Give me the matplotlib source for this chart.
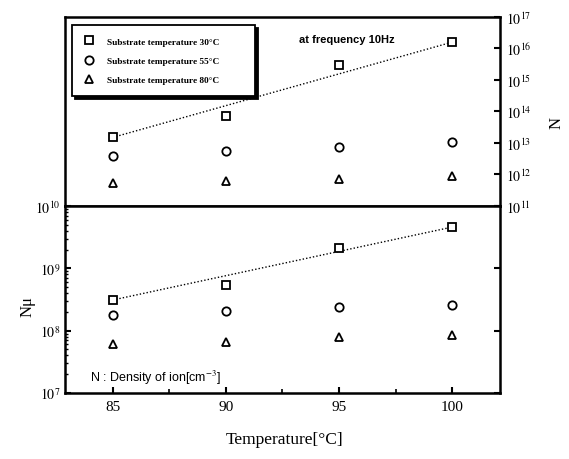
import matplotlib
matplotlib.use("Agg")
import matplotlib.pyplot as plt
from matplotlib.lines import Line2D
from matplotlib.ticker import FixedLocator, LogLocator, NullFormatter

plt.rcParams['font.family'] = ['Liberation Serif', 'DejaVu Serif']
plt.rcParams['mathtext.fontset'] = 'stix'

# data
temps = [85, 90, 95, 100]
n_30 = [1.5e13, 7e13, 3e15, 1.6e16]
n_55 = [3.9e12, 5.6e12, 7.4e12, 1.07e13]
n_80 = [5.4e11, 6.2e11, 7.2e11, 9e11]
nmu_30 = [3.1e8, 5.4e8, 2.1e9, 4.6e9]
nmu_55 = [1.8e8, 2.1e8, 2.4e8, 2.6e8]
nmu_80 = [6.1e7, 6.6e7, 7.9e7, 8.5e7]

legend_labels = ['Substrate temperature 30°C',
                 'Substrate temperature 55°C',
                 'Substrate temperature 80°C']
top_exps = [11, 12, 13, 14, 15, 16, 17]
bot_exps = [7, 8, 9, 10]
x_ticks = [85, 90, 95, 100]

markers = ['s', 'o', '^']
mk = dict(linestyle='none', markerfacecolor='white', markeredgecolor='black',
          markeredgewidth=1.3, markersize=6)

fig = plt.figure(figsize=(5.69, 4.60), dpi=100)
ax_top = fig.add_axes([0.1142, 0.55, 0.7645, 0.4109])
ax_bot = fig.add_axes([0.1142, 0.1435, 0.7645, 0.4065], sharex=ax_top)

# top panel: N
for ys, m in zip([n_30, n_55, n_80], markers):
    ax_top.plot(temps, ys, marker=m, **mk)
ax_top.plot([temps[0], temps[-1]], [n_30[0], n_30[-1]], color='black',
            linestyle=(0, (1, 1.5)), linewidth=1.0, zorder=1)
ax_top.set_yscale('log')
ax_top.set_ylim(10.0 ** top_exps[0], 10.0 ** top_exps[-1])
ax_top.yaxis.tick_right()
ax_top.set_yticks([10.0 ** e for e in top_exps])
ax_top.set_yticklabels([r'$10^{%d}$' % e for e in top_exps])
ax_top.yaxis.set_minor_formatter(NullFormatter())
ax_top.tick_params(axis='y', which='major', direction='in', length=4, width=1.5,
                   labelsize=10, pad=4)
ax_top.tick_params(axis='y', which='minor', left=False, right=False)
ax_top.tick_params(axis='x', which='both', bottom=False, top=False,
                   labelbottom=False)

handles = [Line2D([], [], marker=m, **mk) for m in markers]
leg = ax_top.legend(handles, legend_labels, loc='upper left',
                    bbox_to_anchor=(0.016, 0.957, 0.421, 0.0), mode='expand',
                    frameon=True, fancybox=False,
                    shadow={'color': 'black', 'alpha': 1},
                    edgecolor='black', framealpha=1,
                    prop={'family': 'Liberation Serif', 'weight': 'bold', 'size': 6.7},
                    handlelength=1.0, handletextpad=1.5, labelspacing=1.15,
                    borderpad=1.3, borderaxespad=0)
leg.get_frame().set_linewidth(1.3)

ax_top.text(0.648, 0.884, 'at frequency 10Hz', transform=ax_top.transAxes,
            ha='center', va='center', fontsize=8, fontweight='bold',
            family='Liberation Sans')

# bottom panel: N mu
for ys, m in zip([nmu_30, nmu_55, nmu_80], markers):
    ax_bot.plot(temps, ys, marker=m, **mk)
ax_bot.plot([temps[0], temps[-1]], [nmu_30[0], nmu_30[-1]], color='black',
            linestyle=(0, (1, 1.5)), linewidth=1.0, zorder=1)
ax_bot.set_yscale('log')
ax_bot.set_ylim(10.0 ** bot_exps[0], 10.0 ** bot_exps[-1])
ax_bot.set_yticks([10.0 ** e for e in bot_exps])
ax_bot.set_yticklabels([r'$10^{%d}$' % e for e in bot_exps])
ax_bot.yaxis.set_minor_locator(LogLocator(base=10, subs=range(2, 10)))
ax_bot.yaxis.set_minor_formatter(NullFormatter())
ax_bot.tick_params(axis='y', which='major', direction='in', length=4, width=1.5,
                   labelsize=10, right=True)
ax_bot.tick_params(axis='y', which='minor', direction='in', length=2, width=1,
                   right=False)

ax_bot.set_xlim(82.9, 102.1)
ax_bot.xaxis.set_major_locator(FixedLocator(x_ticks))
ax_bot.xaxis.set_minor_locator(FixedLocator([87.5, 92.5, 97.5]))
ax_bot.tick_params(axis='x', which='major', direction='in', length=4, width=1.5,
                   labelsize=11, pad=5)
ax_bot.tick_params(axis='x', which='minor', direction='in', length=3, width=1.2)

ax_bot.text(0.057, 0.086, 'N : Density of ion[cm$^{-3}$]', transform=ax_bot.transAxes,
            ha='left', va='center', fontsize=9, family='Liberation Sans')

for ax in (ax_top, ax_bot):
    for sp in ax.spines.values():
        sp.set_linewidth(1.8)

fig.text(285 / 569, 1 - 440 / 460, 'Temperature[°C]', ha='center', va='center',
         fontsize=12.5)
fig.text(28 / 569, 1 - 307 / 460, 'Nμ', ha='center', va='center',
         rotation=90, fontsize=12)
fig.text(557 / 569, 1 - 123 / 460, 'N', ha='center', va='center',
         rotation=90, fontsize=12)

fig.savefig('out.png', dpi=100)
